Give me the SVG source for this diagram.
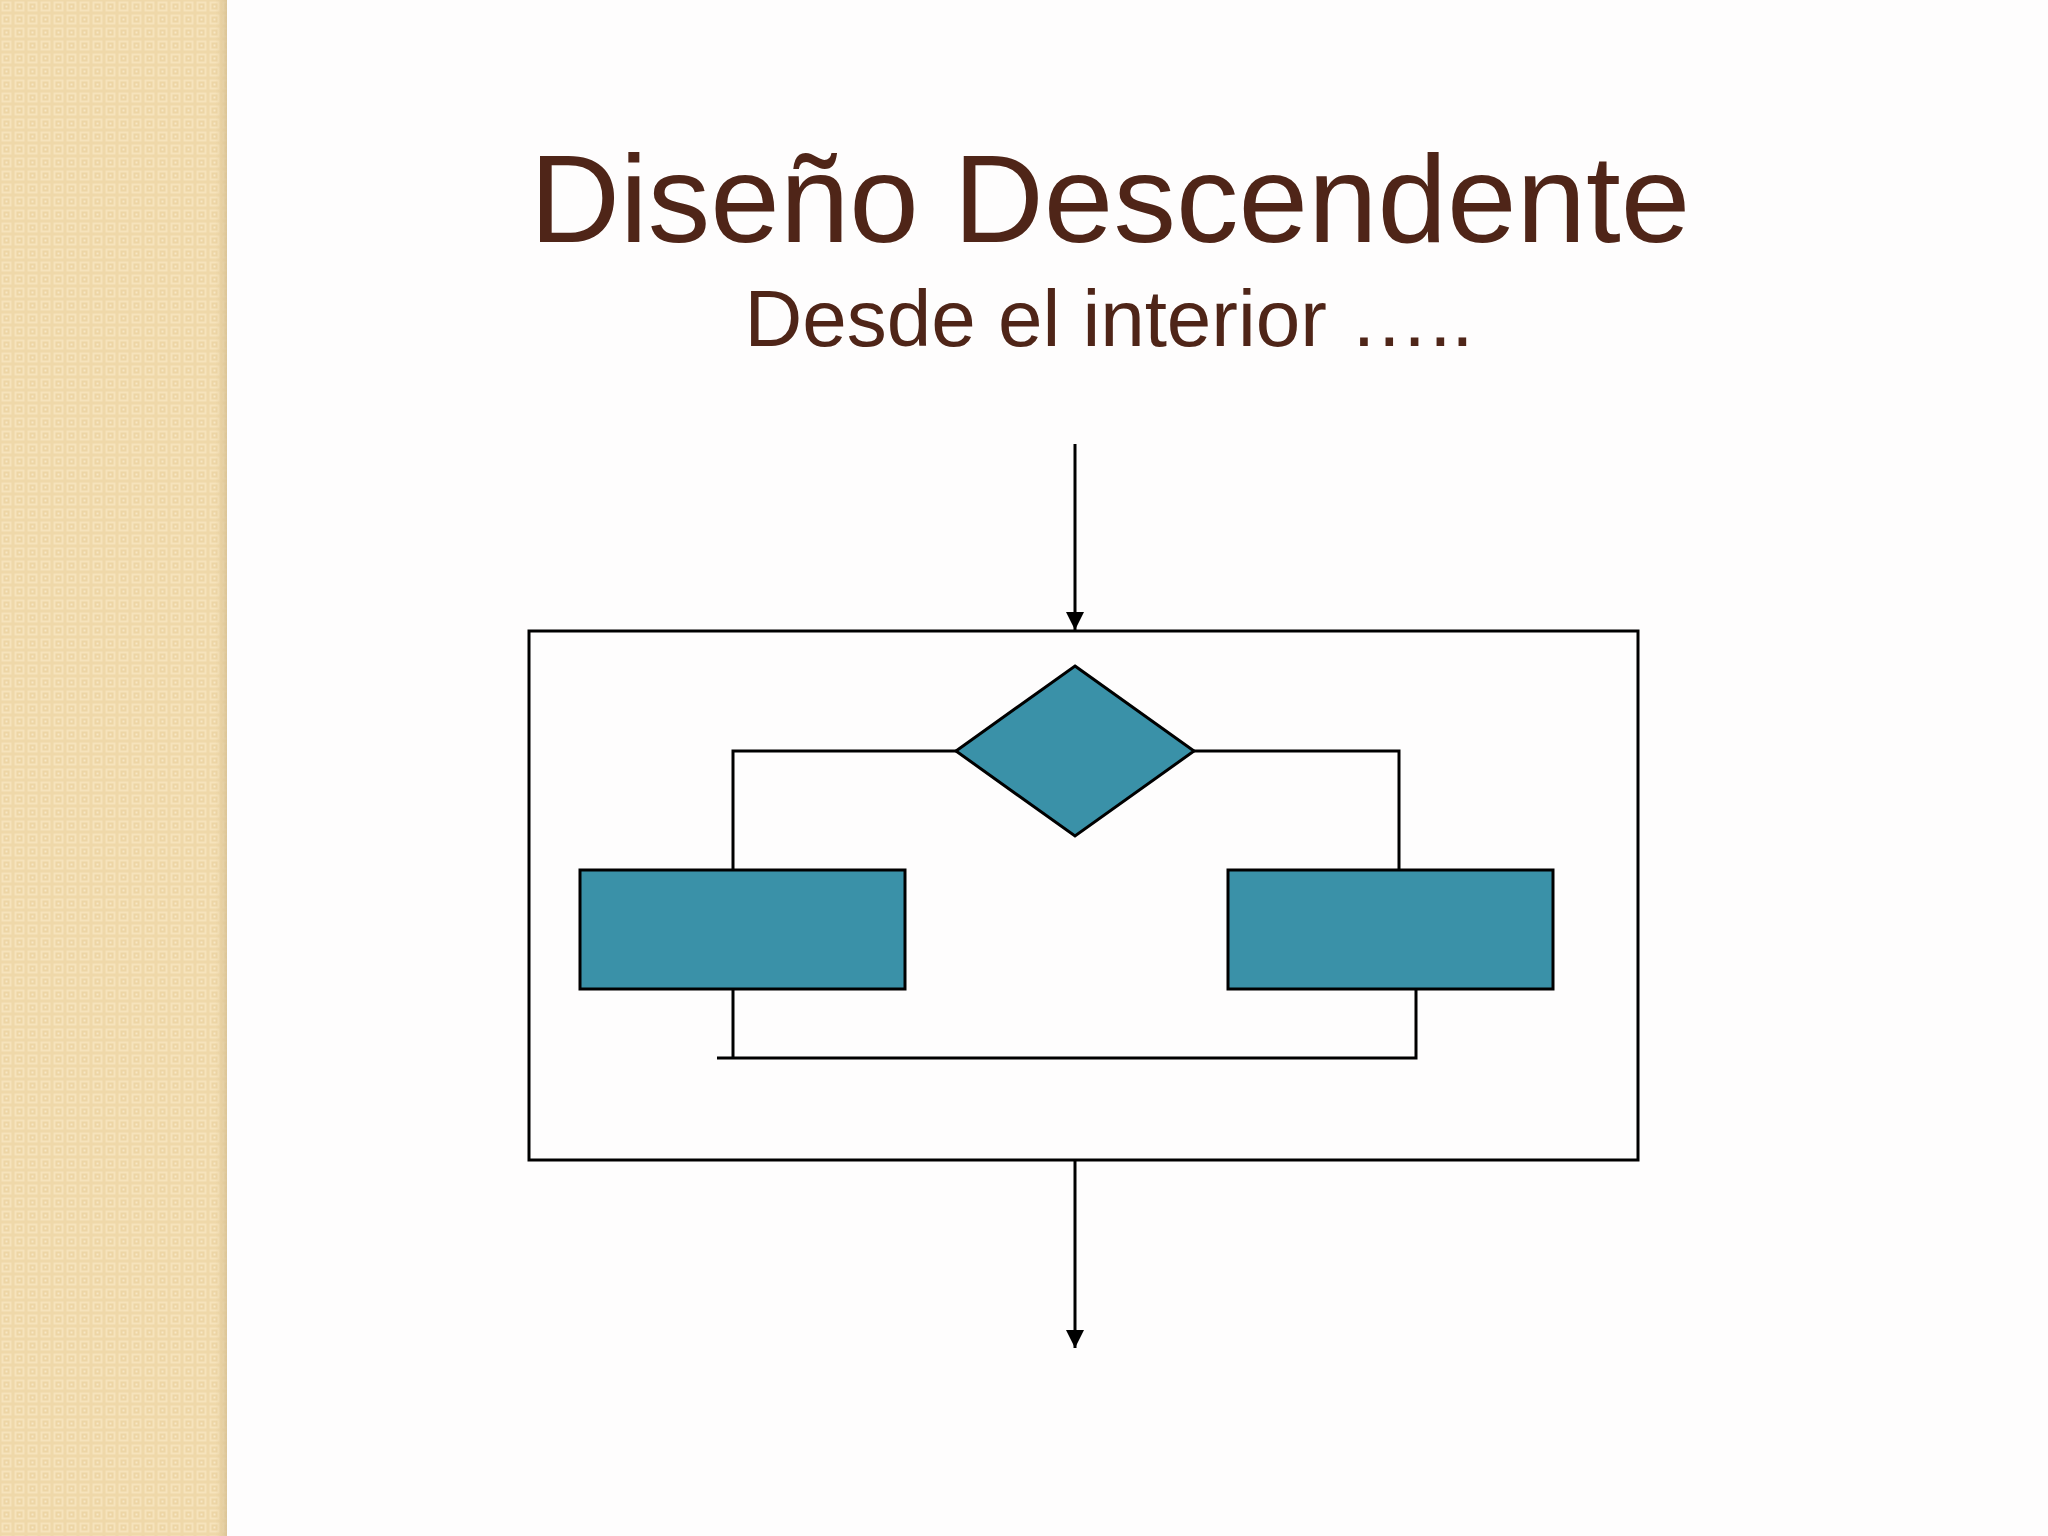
<svg xmlns="http://www.w3.org/2000/svg" width="2048" height="1536" viewBox="0 0 2048 1536">
<defs>
<pattern id="weave" x="0" y="0" width="13" height="13" patternUnits="userSpaceOnUse">
<rect width="13" height="13" fill="#EFD8A9"/>
<rect x="1.5" y="1.5" width="10" height="10" fill="#F6E3BC"/>
<rect x="3.5" y="3.5" width="6" height="6" fill="#EDD5A5"/>
<rect x="5.5" y="5.5" width="2" height="2" fill="#F8E8C6"/>
</pattern>
<linearGradient id="edge" x1="0" y1="0" x2="1" y2="0">
<stop offset="0" stop-color="#E6CFA0" stop-opacity="0"/>
<stop offset="1" stop-color="#D9C294" stop-opacity="0.9"/>
</linearGradient>
<marker id="arrow" viewBox="0 0 18 18" refX="18" refY="9" markerWidth="18" markerHeight="18" markerUnits="userSpaceOnUse" orient="auto">
<path d="M0,0 L18,9 L0,18 Z" fill="#000"/>
</marker>
<style>
.title{font-family:"Liberation Sans",Arial,sans-serif;fill:#4F2518}
.shape{fill:#3A91A8;stroke:#000;stroke-width:3}
.line{fill:none;stroke:#000;stroke-width:3}
</style>
</defs>
<rect width="2048" height="1536" fill="#FEFDFD"/>
<rect x="0" y="0" width="227" height="1536" fill="url(#weave)"/>
<rect x="215" y="0" width="12" height="1536" fill="url(#edge)"/>
<text class="title" x="1110" y="242" font-size="125" text-anchor="middle">Diseño Descendente</text>
<text class="title" x="1109" y="346" font-size="80" text-anchor="middle">Desde el interior …..</text>
<g id="container">
<rect x="529" y="631" width="1109" height="529" fill="none" stroke="#000" stroke-width="3"/>
</g>
<g id="decision">
<polygon class="shape" points="1075,666 1194,751 1075,836 956,751"/>
</g>
<g id="process-left">
<rect class="shape" x="580" y="870" width="325" height="119"/>
</g>
<g id="process-right">
<rect class="shape" x="1228" y="870" width="325" height="119"/>
</g>
<g id="connectors">
<line class="line" x1="1075" y1="444" x2="1075" y2="630" marker-end="url(#arrow)"/>
<polyline class="line" points="956,751 733,751 733,870"/>
<polyline class="line" points="1194,751 1399,751 1399,870"/>
<line class="line" x1="733" y1="989" x2="733" y2="1058"/>
<polyline class="line" points="1416,989 1416,1058 717,1058"/>
<line class="line" x1="1075" y1="1160" x2="1075" y2="1348" marker-end="url(#arrow)"/>
</g>
</svg>
